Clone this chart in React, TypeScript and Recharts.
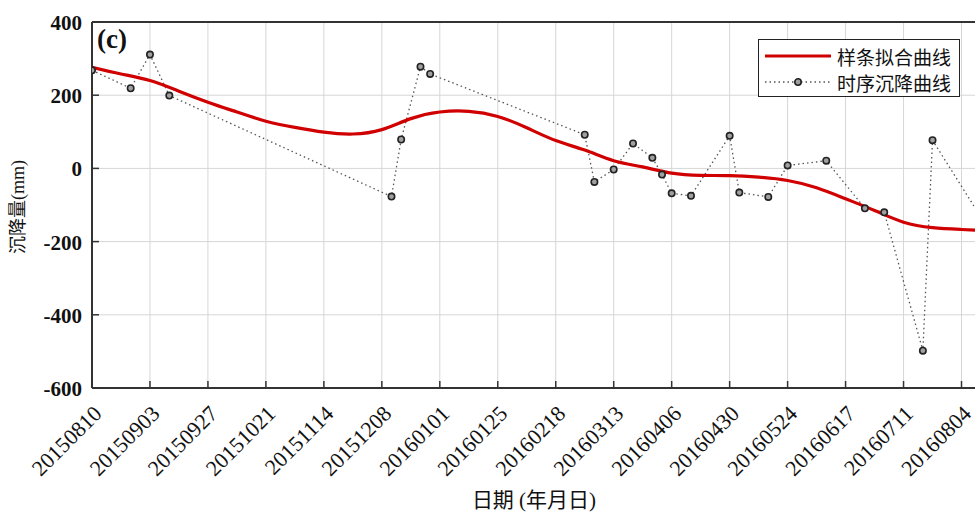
import React from 'react';
import { LineChart, Line, XAxis, YAxis, CartesianGrid } from 'recharts';

// acquisition dates and settlement (mm) of the time series
const obsDates = [
  '20150810', '20150826', '20150903', '20150911', '20151212', '20151216', '20151224', '20151228',
  '20160301', '20160305', '20160313', '20160321', '20160329', '20160402', '20160406', '20160414',
  '20160430', '20160504', '20160516', '20160524', '20160609', '20160625', '20160703', '20160719',
  '20160723', '20160816',
];
const obsValues = [
  268, 219, 311, 199, -77, 79, 278, 258,
  92, -37, -3, 68, 29, -17, -68, -75,
  89, -66, -78, 8, 21, -109, -120, -498,
  77, -175,
];

// spline fit, read every 12 days
const splineDays = [
  0, 12, 24, 36, 48, 60, 72, 84, 96, 108, 120, 132, 144, 156, 168, 180,
  192, 204, 216, 228, 240, 252, 264, 276, 288, 300, 312, 324, 336, 348, 360, 366,
];
const splineValues = [
  276, 258, 240, 211, 181, 154, 129, 112, 99, 94, 106, 136, 154, 156, 142, 111,
  76, 50, 21, 4, -13, -19, -20, -24, -33, -53, -83, -115, -147, -162, -167, -169,
];

const xTicks = [0, 24, 48, 72, 96, 120, 144, 168, 192, 216, 240, 264, 288, 312, 336, 360];
const yTicks = [-600, -400, -200, 0, 200, 400];

const START = Date.UTC(2015, 7, 10);
const DAY = 86400000;

function toDay(s: string) {
  const t = Date.UTC(+s.slice(0, 4), +s.slice(4, 6) - 1, +s.slice(6, 8));
  return Math.round((t - START) / DAY);
}
function fmtDay(d: number) {
  const dt = new Date(START + d * DAY);
  const m = String(dt.getUTCMonth() + 1).padStart(2, '0');
  const dd = String(dt.getUTCDate()).padStart(2, '0');
  return `${dt.getUTCFullYear()}${m}${dd}`;
}

const obsData = obsDates.map((d, i) => ({ day: toDay(d), value: obsValues[i] }));
const splineData = splineDays.map((d, i) => ({ day: d, value: splineValues[i] }));

const AXIS = '#333';
const SERIF = '"Liberation Serif", "Noto Sans CJK SC", serif';

function BottomTick({ x, y, payload }: any) {
  return (
    <g>
      <line x1={x} y1={y} x2={x} y2={y - 7} stroke={AXIS} strokeWidth={1.5} />
      <text
        transform={`translate(${x + 11},${y + 27}) rotate(-45)`}
        textAnchor="end"
        fontFamily={SERIF}
        fontSize={22}
        fill="#111"
      >
        {fmtDay(payload.value)}
      </text>
    </g>
  );
}

function TopTick({ x, y }: any) {
  return <line x1={x} y1={y} x2={x} y2={y + 7} stroke={AXIS} strokeWidth={1.5} />;
}

function LeftTick({ x, y, payload }: any) {
  return (
    <g>
      <line x1={x} y1={y} x2={x + 7} y2={y} stroke={AXIS} strokeWidth={1.5} />
      <text x={x - 10} y={y} dy={8} textAnchor="end" fontFamily={SERIF} fontWeight="bold" fontSize={21} fill="#111">
        {payload.value}
      </text>
    </g>
  );
}

function RightTick({ x, y }: any) {
  return <line x1={x} y1={y} x2={x - 7} y2={y} stroke={AXIS} strokeWidth={1.5} />;
}

function ObsDot({ cx, cy, index }: any) {
  if (cx == null || cy == null) return null;
  return <circle key={index} cx={cx} cy={cy} r={3.2} fill="#a0a0a0" stroke="#222" strokeWidth={1.6} />;
}

export default function App() {
  return (
    <div style={{ position: 'relative', width: 975, height: 514, overflow: 'hidden', background: '#fff' }}>
      <style>{'body{margin:0}'}</style>
      <LineChart width={980} height={514} margin={{ top: 21, right: 3, left: 0, bottom: 0 }}>
        <CartesianGrid stroke="#d6d6d6" strokeWidth={1} />
        <XAxis
          dataKey="day"
          type="number"
          domain={[0, 366]}
          allowDataOverflow
          ticks={xTicks}
          interval={0}
          height={126}
          tickSize={0}
          tickMargin={0}
          tickLine={false}
          tick={<BottomTick />}
          axisLine={{ stroke: AXIS, strokeWidth: 2 }}
        />
        <XAxis
          xAxisId="top"
          orientation="top"
          type="number"
          domain={[0, 366]}
          allowDataOverflow
          ticks={xTicks}
          interval={0}
          height={1}
          tickSize={0}
          tickMargin={0}
          tickLine={false}
          tick={<TopTick />}
          axisLine={{ stroke: AXIS, strokeWidth: 2 }}
        />
        <YAxis
          type="number"
          domain={[-600, 400]}
          ticks={yTicks}
          interval={0}
          width={92}
          tickSize={0}
          tickMargin={0}
          tickLine={false}
          tick={<LeftTick />}
          axisLine={{ stroke: AXIS, strokeWidth: 2 }}
        />
        <YAxis
          yAxisId="right"
          orientation="right"
          type="number"
          domain={[-600, 400]}
          ticks={yTicks}
          interval={0}
          width={1}
          tickSize={0}
          tickMargin={0}
          tickLine={false}
          tick={<RightTick />}
          axisLine={{ stroke: AXIS, strokeWidth: 2 }}
        />
        <Line
          data={obsData}
          dataKey="value"
          type="linear"
          stroke="#555"
          strokeWidth={1.3}
          strokeDasharray="1.5 3"
          dot={<ObsDot />}
          activeDot={false}
          isAnimationActive={false}
        />
        <Line
          data={splineData}
          dataKey="value"
          type="natural"
          stroke="#d10000"
          strokeWidth={3.2}
          dot={false}
          activeDot={false}
          isAnimationActive={false}
        />
      </LineChart>

      <div style={{ position: 'absolute', left: 97, top: 24, fontFamily: SERIF, fontWeight: 'bold', fontSize: 27, color: '#111' }}>
        (c)
      </div>

      <div
        style={{
          position: 'absolute', left: 758, top: 39, width: 202, height: 58,
          border: '1.5px solid #222', background: '#fff', boxSizing: 'border-box',
          fontFamily: SERIF, fontSize: 19, color: '#111',
        }}
      >
        <div style={{ position: 'absolute', left: 6, top: 4, display: 'flex', alignItems: 'center', height: 24 }}>
          <svg width={66} height={10}>
            <line x1={0} y1={5} x2={66} y2={5} stroke="#d10000" strokeWidth={3.2} />
          </svg>
          <span style={{ marginLeft: 6 }}>样条拟合曲线</span>
        </div>
        <div style={{ position: 'absolute', left: 6, top: 30, display: 'flex', alignItems: 'center', height: 24 }}>
          <svg width={66} height={10}>
            <line x1={0} y1={5} x2={66} y2={5} stroke="#555" strokeWidth={1.3} strokeDasharray="1.5 3" />
            <circle cx={33} cy={5} r={3.2} fill="#a0a0a0" stroke="#222" strokeWidth={1.6} />
          </svg>
          <span style={{ marginLeft: 6 }}>时序沉降曲线</span>
        </div>
      </div>

      <div
        style={{
          position: 'absolute', left: 18, top: 207, transform: 'translate(-50%,-50%) rotate(-90deg)',
          fontFamily: SERIF, fontSize: 18, lineHeight: 1, color: '#111', whiteSpace: 'nowrap',
        }}
      >
        沉降量(mm)
      </div>
      <div
        style={{
          position: 'absolute', left: 534, top: 500, transform: 'translate(-50%,-50%)',
          fontFamily: SERIF, fontSize: 21, lineHeight: 1, color: '#111', whiteSpace: 'nowrap',
        }}
      >
        日期 (年月日)
      </div>
    </div>
  );
}
